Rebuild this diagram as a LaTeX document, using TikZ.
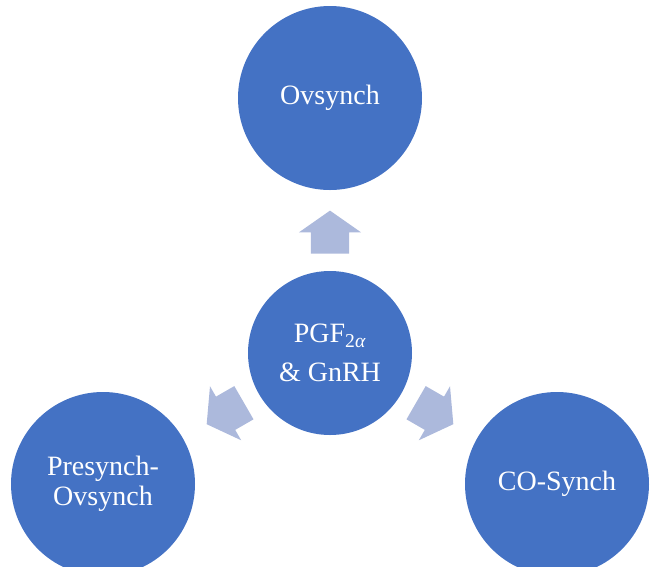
\documentclass[tikz,border=0pt]{standalone}
\usepackage{fontspec}
\setmainfont{Liberation Serif}
\usetikzlibrary{shapes.arrows,calc}
\definecolor{discblue}{RGB}{68,114,196}
\definecolor{arrowblue}{RGB}{172,185,220}
\tikzset{
  disc/.style={shape=circle, fill=discblue, text=white, minimum size=184pt, inner sep=0pt, align=center, font=\fontsize{28}{30}\selectfont},
  blockarrow/.style={shape=single arrow, fill=arrowblue, anchor=tail, minimum height=43pt, inner xsep=0pt, inner ysep=19pt, single arrow head extend=12pt, single arrow tip angle=110}
}
\begin{document}
\begin{tikzpicture}[x=1pt,y=-1pt]
			\clip (0,0) rectangle (651,566);
			\node[disc] (ovs) at (330,98) {Ovsynch};
			\node[disc, minimum size=164pt] (hub) at (330,353) {PGF\textsubscript{2\textit{α}}\\[9pt]\& GnRH};
			\node[disc] (pre) at (103,484) {Presynch-\\Ovsynch};
			\node[disc] (cos) at (557,484) {CO-Synch};
			
			\node[blockarrow, rotate=90] (toOvs) at ($(hub.90)!17pt!(ovs.270)$) {};
			\node[blockarrow, rotate=210] (toPre) at ($(hub.210)!17pt!(pre.30)$) {};
			\node[blockarrow, rotate=-30] (toCos) at ($(hub.-30)!17pt!(cos.150)$) {};
		\end{tikzpicture}
\end{document}
